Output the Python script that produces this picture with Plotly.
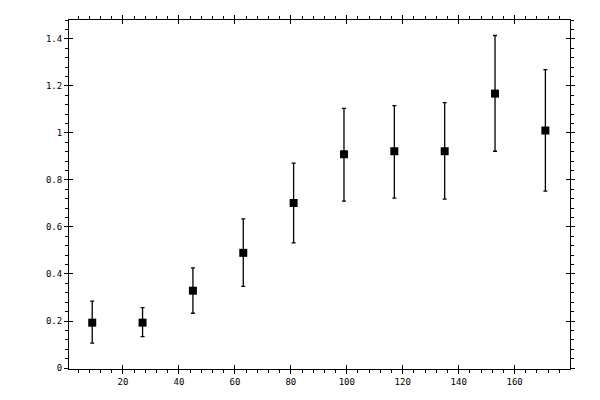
"""Scatter with asymmetric error bars, boxed axes with crossing major ticks."""
import plotly.graph_objects as go

# data
x_vals = [9, 27, 45, 63, 81, 99, 117, 135, 153, 171]
y_vals = [0.193, 0.193, 0.329, 0.490, 0.702, 0.909, 0.922, 0.922, 1.167, 1.010]
y_upper = [0.285, 0.257, 0.426, 0.634, 0.871, 1.104, 1.116, 1.129, 1.414, 1.269]
y_lower = [0.106, 0.134, 0.233, 0.347, 0.532, 0.710, 0.723, 0.718, 0.922, 0.752]

x_range = [0.7, 179.8]
y_range = [-0.004, 1.48]

err_plus = [u - y for u, y in zip(y_upper, y_vals)]
err_minus = [y - lo for y, lo in zip(y_vals, y_lower)]

fig = go.Figure()
fig.add_trace(go.Scatter(
    x=x_vals,
    y=y_vals,
    mode="markers",
    marker=dict(symbol="square", size=8, color="black"),
    error_y=dict(
        type="data",
        symmetric=False,
        array=err_plus,
        arrayminus=err_minus,
        color="black",
        thickness=1.3,
        width=2,
    ),
    showlegend=False,
))
# invisible trace so the overlay axes (inner half of major ticks) get drawn
fig.add_trace(go.Scatter(
    x=[x_vals[0]], y=[y_vals[0]], xaxis="x2", yaxis="y2",
    mode="markers", marker=dict(opacity=0), showlegend=False, hoverinfo="skip",
))

tick_font = dict(family="DejaVu Sans Mono", size=9, color="black")

# page body adds ~8px offset, margins compensate for it
fig.update_layout(
    width=600,
    height=400,
    margin=dict(l=61, r=38, t=7, b=39),
    paper_bgcolor="white",
    plot_bgcolor="white",
    xaxis=dict(
        range=x_range, dtick=20, tick0=0,
        showgrid=False, zeroline=False,
        showline=True, linecolor="black", linewidth=1, mirror="ticks",
        ticks="outside", ticklen=4, tickwidth=1, tickcolor="black",
        minor=dict(dtick=4, ticks="outside", ticklen=3, tickwidth=1, tickcolor="black"),
        tickfont=tick_font,
        showticklabels=True,
    ),
    yaxis=dict(
        range=y_range, dtick=0.2, tick0=0,
        showgrid=False, zeroline=False,
        showline=True, linecolor="black", linewidth=1, mirror="ticks",
        ticks="outside", ticklen=4, tickwidth=1, tickcolor="black",
        minor=dict(dtick=0.04, ticks="outside", ticklen=3, tickwidth=1, tickcolor="black"),
        tickfont=tick_font,
    ),
    xaxis2=dict(
        overlaying="x", range=x_range, dtick=20, tick0=0,
        showgrid=False, zeroline=False, showline=False,
        ticks="inside", ticklen=4, tickwidth=1, tickcolor="black",
        mirror="ticks", showticklabels=False,
    ),
    yaxis2=dict(
        overlaying="y", range=y_range, dtick=0.2, tick0=0,
        showgrid=False, zeroline=False, showline=False,
        ticks="inside", ticklen=4, tickwidth=1, tickcolor="black",
        mirror="ticks", showticklabels=False,
    ),
)

fig.write_html("out.html")
